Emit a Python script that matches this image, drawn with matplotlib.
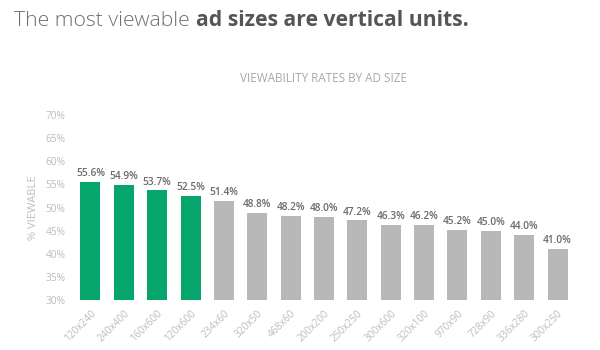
import matplotlib
matplotlib.use("Agg")
import matplotlib.pyplot as plt

# ---- data ----
ad_sizes = ["120x240", "240x400", "160x600", "120x600", "234x60", "320x50",
            "468x60", "200x200", "250x250", "300x600", "320x100", "970x90",
            "728x90", "336x280", "300x250"]
viewable = [55.6, 54.9, 53.7, 52.5, 51.4, 48.8, 48.2, 48.0, 47.2, 46.3,
            46.2, 45.2, 45.0, 44.0, 41.0]
vertical = [True, True, True, True] + [False] * 11
y_ticks = [30, 35, 40, 45, 50, 55, 60, 65, 70]

GREEN = "#05a56b"
GREY_BAR = "#b8b8b8"
LIGHT_TXT = "#bdbdbd"
VALUE_TXT = "#6b6b6b"

plt.rcParams["font.family"] = ["Open Sans", "DejaVu Sans"]

fig = plt.figure(figsize=(6, 3.5), dpi=100)
ax = fig.add_axes([0.123, 0.143, 0.834, 0.528])

x = list(range(len(ad_sizes)))
colors = [GREEN if v else GREY_BAR for v in vertical]
bars = ax.bar(x, [v - 30 for v in viewable], bottom=30, width=0.6, color=colors)

for rect, v in zip(bars, viewable):
    ax.text(rect.get_x() + rect.get_width() / 2, v + 0.6, f"{v:.1f}%",
            ha="center", va="bottom", fontsize=7.3, color=VALUE_TXT,
            fontweight="semibold")

ax.set_ylim(30, 70)
ax.set_xlim(-0.5, len(ad_sizes) - 0.5)
ax.set_yticks(y_ticks)
ax.set_yticklabels([f"{t}%" for t in y_ticks], fontsize=7.3, color=LIGHT_TXT)
ax.set_xticks(x)
ax.set_xticklabels(ad_sizes, rotation=45, ha="right", rotation_mode="anchor",
                   fontsize=7.3, color=LIGHT_TXT)
ax.tick_params(length=0, pad=6)
for s in ax.spines.values():
    s.set_visible(False)

ax.set_ylabel("% VIEWABLE", fontsize=8, color=LIGHT_TXT, labelpad=5)
ax.set_title("VIEWABILITY RATES BY AD SIZE", fontsize=8.5, color="#a8a8a8",
             pad=24)

# headline: light part + bold part
t1 = fig.text(0.024, 0.925, "The most viewable ", fontsize=15.2, color="#6e6e6e",
              va="baseline", fontweight="light")
ax.annotate("ad sizes are vertical units.", xy=(1, 0), xycoords=t1,
            va="bottom", fontsize=15.2, color="#555555", fontweight="bold",
            annotation_clip=False)

fig.savefig("out.png", dpi=100)
